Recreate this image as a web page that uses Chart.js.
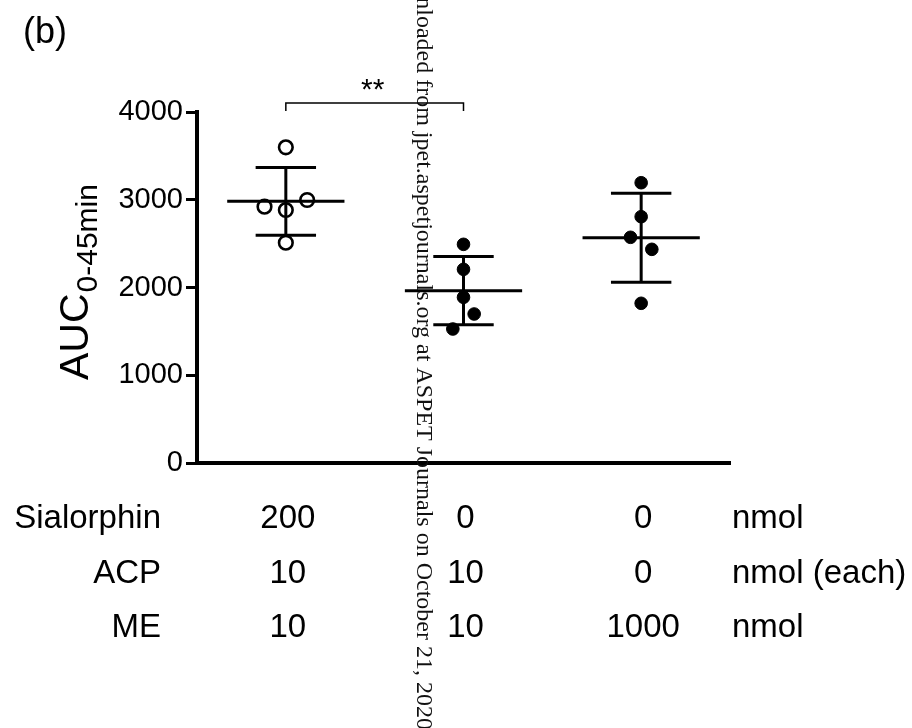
<!DOCTYPE html>
<html>
<head>
<meta charset="utf-8">
<script src="https://cdn.jsdelivr.net/npm/chart.js@4"></script>
<style>
html, body { margin: 0; padding: 0; background: #fff; }
#wrap { width: 912px; height: 728px; }
</style>
</head>
<body>
<div id="wrap"><canvas id="aucChart" width="912" height="728"></canvas></div>
<script>
var rowNames = ['Sialorphin', 'ACP', 'ME'];
var sialorphinDose = ['200', '0', '0'];
var acpDose = ['10', '10', '0'];
var meDose = ['10', '10', '1000'];
var rowUnits = ['nmol', 'nmol (each)', 'nmol'];

var yTicks = [0, 1000, 2000, 3000, 4000];

var aucGroup1 = [3598, 2921, 2883, 2997, 2511];
var aucGroup2 = [2492, 2207, 1888, 1698, 1527];
var aucGroup3 = [3194, 2807, 2572, 2435, 1820];
// sideways spread of the dots inside a column
var jitter1 = [0, -0.12, 0, 0.12, 0];
var jitter2 = [0, 0, 0, 0.06, -0.06];
var jitter3 = [0, 0, -0.06, 0.06, 0];

var aucMean = [2982, 1964, 2567];
var aucSD = [386, 388, 508];

var sigPair = [1, 2];
var sigLabel = '**';
var watermark = 'Downloaded from jpet.aspetjournals.org at ASPET Journals on October 21, 2020';

var SANS = '"Liberation Sans", Arial, sans-serif';

function toPoints(values, jitter, col) {
    return values.map(function(v, i) { return { x: col + jitter[i], y: v }; });
}

var annotate = {
    id: 'annotate',
    beforeDatasetsDraw: function(chart) {
        var ctx = chart.ctx, x = chart.scales.x, y = chart.scales.y;
        ctx.save();
        // watermark
        ctx.fillStyle = '#111';
        ctx.font = '24px "Liberation Serif", "Times New Roman", serif';
        ctx.textAlign = 'right';
        ctx.textBaseline = 'alphabetic';
        ctx.translate(417, 0);
        ctx.rotate(Math.PI / 2);
        ctx.fillText(watermark, 730, 0);
        ctx.restore();

        // mean and SD
        ctx.save();
        ctx.strokeStyle = '#000';
        ctx.lineWidth = 3;
        aucMean.forEach(function(m, i) {
            var c = i + 1;
            var cx = x.getPixelForValue(c);
            var my = y.getPixelForValue(m);
            var top = y.getPixelForValue(m + aucSD[i]);
            var bot = y.getPixelForValue(m - aucSD[i]);
            ctx.beginPath();
            ctx.moveTo(x.getPixelForValue(c - 0.33), my);
            ctx.lineTo(x.getPixelForValue(c + 0.33), my);
            ctx.moveTo(cx, top);
            ctx.lineTo(cx, bot);
            ctx.moveTo(x.getPixelForValue(c - 0.17), top);
            ctx.lineTo(x.getPixelForValue(c + 0.17), top);
            ctx.moveTo(x.getPixelForValue(c - 0.17), bot);
            ctx.lineTo(x.getPixelForValue(c + 0.17), bot);
            ctx.stroke();
        });
        ctx.restore();
    },
    afterDraw: function(chart) {
        var ctx = chart.ctx, x = chart.scales.x, area = chart.chartArea;
        ctx.save();
        ctx.fillStyle = '#000';
        ctx.strokeStyle = '#000';

        // panel letter
        ctx.font = '36px ' + SANS;
        ctx.textAlign = 'left';
        ctx.textBaseline = 'alphabetic';
        ctx.fillText('(b)', 23, 43);

        // significance bracket
        var bx1 = x.getPixelForValue(sigPair[0]);
        var bx2 = x.getPixelForValue(sigPair[1]);
        var by = area.top - 9;
        ctx.lineWidth = 1.5;
        ctx.beginPath();
        ctx.moveTo(bx1, by + 8);
        ctx.lineTo(bx1, by);
        ctx.lineTo(bx2, by);
        ctx.lineTo(bx2, by + 8);
        ctx.stroke();
        ctx.font = '30px ' + SANS;
        ctx.textAlign = 'center';
        ctx.fillText(sigLabel, (bx1 + bx2) / 2 - 2, by - 4);

        // y title with subscript
        ctx.save();
        ctx.translate(88, 380);
        ctx.rotate(-Math.PI / 2);
        ctx.textAlign = 'left';
        ctx.font = '41px ' + SANS;
        ctx.fillText('AUC', 0, 0);
        var w = ctx.measureText('AUC').width;
        ctx.font = '30px ' + SANS;
        ctx.fillText('0-45min', w + 1, 9);
        ctx.restore();

        // dose table
        var rows = [sialorphinDose, acpDose, meDose];
        ctx.font = '33px ' + SANS;
        rows.forEach(function(vals, r) {
            var ty = 528 + r * 54.5;
            ctx.textAlign = 'right';
            ctx.fillText(rowNames[r], area.left - 36, ty);
            ctx.textAlign = 'center';
            vals.forEach(function(v, i) {
                ctx.fillText(v, x.getPixelForValue(i + 1) + 2, ty);
            });
            ctx.textAlign = 'left';
            ctx.fillText(rowUnits[r], area.right + 2, ty);
        });
        ctx.restore();
    }
};

var ctxAuc = document.getElementById('aucChart').getContext('2d');
var aucChart = new Chart(ctxAuc, {
    type: 'scatter',
    data: {
        datasets: [{
            data: toPoints(aucGroup1, jitter1, 1),
            pointStyle: 'circle',
            pointRadius: 6.8,
            pointBorderWidth: 2.6,
            pointBackgroundColor: 'rgba(0,0,0,0)',
            pointBorderColor: '#000'
        }, {
            data: toPoints(aucGroup2, jitter2, 2),
            pointStyle: 'circle',
            pointRadius: 6.3,
            pointBorderWidth: 1,
            pointBackgroundColor: '#000',
            pointBorderColor: '#000'
        }, {
            data: toPoints(aucGroup3, jitter3, 3),
            pointStyle: 'circle',
            pointRadius: 6.3,
            pointBorderWidth: 1,
            pointBackgroundColor: '#000',
            pointBorderColor: '#000'
        }]
    },
    options: {
        responsive: false,
        animation: false,
        layout: { padding: { top: 112, right: 182, bottom: 265, left: 0 } },
        plugins: { legend: { display: false }, tooltip: { enabled: false } },
        scales: {
            x: {
                type: 'linear',
                min: 0.5,
                max: 3.5,
                ticks: { display: false },
                grid: { display: false },
                border: { color: '#000', width: 4 },
                afterFit: function(s) { s.height = 0; }
            },
            y: {
                min: 0,
                max: 4000,
                afterBuildTicks: function(s) { s.ticks = yTicks.map(function(v) { return { value: v }; }); },
                ticks: {
                    color: '#000',
                    padding: 3,
                    font: { family: SANS, size: 29 },
                    callback: function(v) { return String(v); }
                },
                grid: { drawOnChartArea: false, tickLength: 11, tickWidth: 3, tickColor: '#000' },
                border: { color: '#000', width: 4 },
                afterFit: function(s) { s.width = 197; }
            }
        }
    },
    plugins: [annotate]
});
</script>
</body>
</html>
